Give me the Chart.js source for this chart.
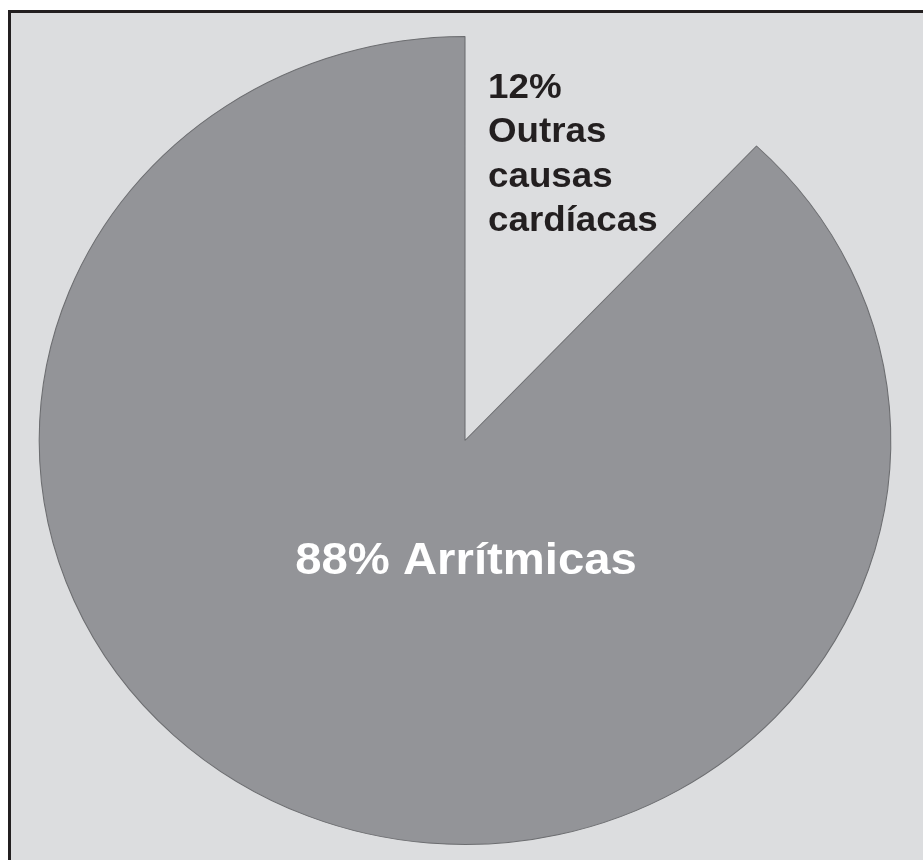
<!DOCTYPE html>
<html lang="pt">
	<head>
		<meta charset="UTF-8" />
		<meta name="viewport" content="width=device-width, initial-scale=1.0" />
		<title>Causas cardíacas</title>
		<script src="https://cdn.jsdelivr.net/npm/chart.js@4/dist/chart.umd.min.js"></script>
		<style>
			html, body { margin: 0; padding: 0; background: #ffffff; overflow: hidden; }
			#frame {
				position: absolute; left: 8px; top: 10px; width: 1000px; height: 1000px;
				border-left: 3px solid #231f20; border-top: 3px solid #231f20;
				background: #dcdddf;
			}
			#causas { position: absolute; left: 0; top: 0; }
		</style>
	</head>
	<body>
		<div id="frame"></div>
		<canvas id="causas" width="923" height="860"></canvas>

		<script>
			const categories = ["Outras causas cardíacas", "Arrítmicas"];
			const shares = [12, 88];

			// the pie is printed a little wider than tall
			const stretchX = 1.054;

			const ellipse = {
				id: "ellipse",
				beforeDatasetsDraw(chart) {
					const cx = chart.getDatasetMeta(0).data[0].x;
					const ctx = chart.ctx;
					ctx.save();
					ctx.translate(cx, 0);
					ctx.scale(stretchX, 1);
					ctx.translate(-cx, 0);
				},
				afterDatasetsDraw(chart) {
					chart.ctx.restore();
				},
			};

			const sliceLabels = {
				id: "sliceLabels",
				afterDraw(chart) {
					const ctx = chart.ctx;
					const arc = chart.getDatasetMeta(0).data[0];
					const cx = arc.x, cy = arc.y;

					const drawLine = (text, x, y, size, color) => {
						ctx.save();
						ctx.translate(x, y);
						ctx.scale(1.05, 1);
						ctx.font = "bold " + size + "px 'Liberation Sans', Arial, sans-serif";
						ctx.fillStyle = color;
						ctx.textBaseline = "alphabetic";
						ctx.textAlign = "left";
						ctx.fillText(text, 0, 0);
						ctx.restore();
					};

					// small slice: value and category stacked, left aligned
					const small = [shares[0] + "%"].concat(categories[0].split(" "));
					small.forEach((t, i) => drawLine(t, cx + 23, cy - 343 + i * 44.5, 35, "#231f20"));

					// big slice: one centred line
					const big = shares[1] + "% " + categories[1];
					ctx.font = "bold 45px 'Liberation Sans', Arial, sans-serif";
					const w = ctx.measureText(big).width * 1.05;
					drawLine(big, cx + 1 - w / 2, cy + 133, 45, "#ffffff");
				},
			};

			new Chart(document.getElementById("causas"), {
				type: "pie",
				data: {
					labels: categories,
					datasets: [
						{
							data: shares,
							backgroundColor: ["rgba(0,0,0,0)", "#939498"],
							borderColor: ["rgba(0,0,0,0)", "#6c6d70"],
							borderWidth: [0, 1],
						},
					],
				},
				options: {
					responsive: false,
					animation: false,
					devicePixelRatio: 1,
					layout: { padding: { top: 36, bottom: 15, left: 40, right: 33 } },
					plugins: {
						legend: { display: false },
						tooltip: { enabled: false },
					},
				},
				plugins: [ellipse, sliceLabels],
			});
		</script>
	</body>
</html>
